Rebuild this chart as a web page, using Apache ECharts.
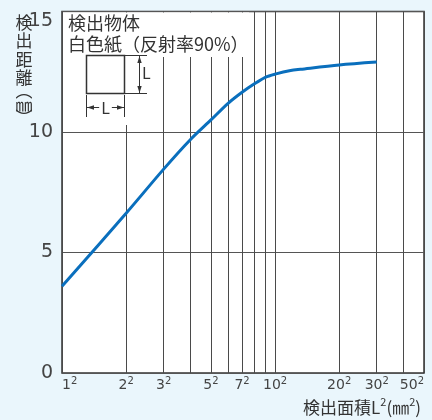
<!DOCTYPE html>
<html>
<head>
<meta charset="utf-8">
<script src="https://cdn.jsdelivr.net/npm/echarts@6/dist/echarts.min.js"></script>
<style>
html,body{margin:0;padding:0;background:#eaf6fc;}
#c{width:432px;height:420px;}
</style>
</head>
<body>
<div id="c"></div>
<script>
// Data
var areaValues = [1, 4, 9, 16, 25, 36, 49, 64, 81, 100, 140, 173, 400, 900];   // L^2 (mm^2)
var distValues = [3.6, 6.63, 8.46, 9.68, 10.5, 11.18, 11.65, 12.0, 12.27, 12.4, 12.55, 12.6, 12.78, 12.9]; // mm
var gridValuesX = [1, 4, 9, 16, 25, 36, 49, 64, 81, 100, 400, 900, 1600, 2500];
var labelValuesX = [1, 4, 9, 25, 49, 100, 400, 900, 2500];
var labelBaseX = ['1', '2', '3', '5', '7', '10', '20', '30', '50'];
var yTicks = [0, 5, 10, 15];

var fontCJK = '"Noto Sans CJK JP", "Noto Sans", sans-serif';
var fontNum = '"DejaVu Sans", "Noto Sans", sans-serif';

var chart = echarts.init(document.getElementById('c'));
var seriesData = areaValues.map(function (v, i) { return [v, distValues[i]]; });

function lbl(v) {
  for (var i = 0; i < labelValuesX.length; i++) {
    if (Math.abs(Math.log(v) - Math.log(labelValuesX[i])) < 1e-3) return '{b|' + labelBaseX[i] + '}{s|2}';
  }
  return '';
}

var ink = '#333';
chart.setOption({
  backgroundColor: '#eaf6fc',
  animation: false,
  grid: {
    left: 62, right: 8, top: 11.5, bottom: 47,
    show: true, backgroundColor: '#ffffff', borderColor: '#333', borderWidth: 1.5
  },
  xAxis: {
    type: 'log', logBase: 10, min: 1, max: 2500,
    axisLine: { show: false },
    axisTick: { show: false, customValues: gridValuesX },
    splitLine: { show: true, lineStyle: { color: '#4a4a4a', width: 1 } },
    axisLabel: {
      customValues: labelValuesX,
      formatter: lbl,
      color: '#444', fontFamily: fontNum, margin: 3,
      alignMinLabel: 'left', alignMaxLabel: 'right',
      rich: {
        b: { fontSize: 14, lineHeight: 16, fontFamily: fontNum, color: '#444', verticalAlign: 'bottom' },
        s: { fontSize: 10, lineHeight: 16, fontFamily: fontNum, color: '#444', verticalAlign: 'top' }
      }
    }
  },
  yAxis: {
    type: 'value', min: 0, max: 15, interval: 5,
    axisLine: { show: false }, axisTick: { show: false },
    splitLine: { show: true, lineStyle: { color: '#555', width: 1 } },
    axisLabel: {
      color: '#444', fontSize: 19, fontFamily: fontNum, margin: 9,
      verticalAlignMaxLabel: 'top',
      formatter: function (v) { return yTicks.indexOf(v) >= 0 ? String(v) : ''; }
    }
  },
  series: [{
    type: 'line', data: seriesData, smooth: 0.3, symbol: 'none',
    lineStyle: { color: '#0a6fbd', width: 3 }, z: 3
  }],
  graphic: [
    { type: 'rect', shape: { x: 63, y: 12.5, width: 186, height: 44.5 }, style: { fill: '#fff' }, z: 50 },
    { type: 'rect', shape: { x: 63, y: 56, width: 97, height: 69 }, style: { fill: '#fff' }, z: 50 },
    { type: 'text', x: 68, y: 13, z: 60,
      style: { text: '検出物体\n白色紙（反射率90%）', fill: ink, font: '18px ' + fontCJK, lineHeight: 21 } },
    { type: 'rect', shape: { x: 86.5, y: 55.5, width: 38, height: 38 }, style: { fill: 'none', stroke: ink, lineWidth: 1.5 }, z: 60 },
    { type: 'line', shape: { x1: 125, y1: 55.5, x2: 147, y2: 55.5 }, style: { stroke: ink, lineWidth: 1 }, z: 60 },
    { type: 'line', shape: { x1: 125, y1: 93.5, x2: 147, y2: 93.5 }, style: { stroke: ink, lineWidth: 1 }, z: 60 },
    { type: 'line', shape: { x1: 139.5, y1: 56, x2: 139.5, y2: 93 }, style: { stroke: ink, lineWidth: 1 }, z: 60 },
    { type: 'polygon', shape: { points: [[139.5, 56], [137.3, 63], [141.7, 63]] }, style: { fill: ink }, z: 60 },
    { type: 'polygon', shape: { points: [[139.5, 93], [137.3, 86], [141.7, 86]] }, style: { fill: ink }, z: 60 },
    { type: 'text', x: 142, y: 65, z: 60, style: { text: 'L', fill: ink, font: '16px ' + fontCJK } },
    { type: 'line', shape: { x1: 86.5, y1: 95, x2: 86.5, y2: 117 }, style: { stroke: ink, lineWidth: 1 }, z: 60 },
    { type: 'line', shape: { x1: 124.5, y1: 95, x2: 124.5, y2: 117 }, style: { stroke: ink, lineWidth: 1 }, z: 60 },
    { type: 'line', shape: { x1: 87, y1: 107.5, x2: 124, y2: 107.5 }, style: { stroke: ink, lineWidth: 1 }, z: 60 },
    { type: 'polygon', shape: { points: [[87, 107.5], [94, 105.3], [94, 109.7]] }, style: { fill: ink }, z: 60 },
    { type: 'polygon', shape: { points: [[124, 107.5], [117, 105.3], [117, 109.7]] }, style: { fill: ink }, z: 60 },
    { type: 'text', x: 105.5, y: 107.5, z: 61,
      style: { text: 'L', fill: ink, font: '16px ' + fontCJK, align: 'center', verticalAlign: 'middle', backgroundColor: '#fff', padding: [0, 2] } },
    { type: 'text', x: 24, y: 13, z: 60,
      style: {
        text: '{a|検}\n{a|出}\n{a|距}\n{a|離}\n{p|︵}\n{a|㎜}\n{p|︶}',
        align: 'center', fill: ink,
        rich: {
          a: { fontSize: 17, lineHeight: 18.5, fontFamily: fontCJK, fill: ink, align: 'center' },
          p: { fontSize: 17, lineHeight: 8, fontFamily: fontCJK, fill: ink, align: 'center' }
        }
      } },
    { type: 'text', x: 421, y: 406, z: 60,
      style: {
        text: '{a|検出面積L}{s|2}{a|(㎜}{s|2}{a|)}', align: 'right', verticalAlign: 'middle', fill: ink,
        rich: {
          a: { fontSize: 17, lineHeight: 20, fontFamily: fontCJK, fill: ink, verticalAlign: 'bottom' },
          s: { fontSize: 11, lineHeight: 20, fontFamily: fontCJK, fill: ink, verticalAlign: 'top' }
        }
      } }
  ]
});
</script>
</body>
</html>
